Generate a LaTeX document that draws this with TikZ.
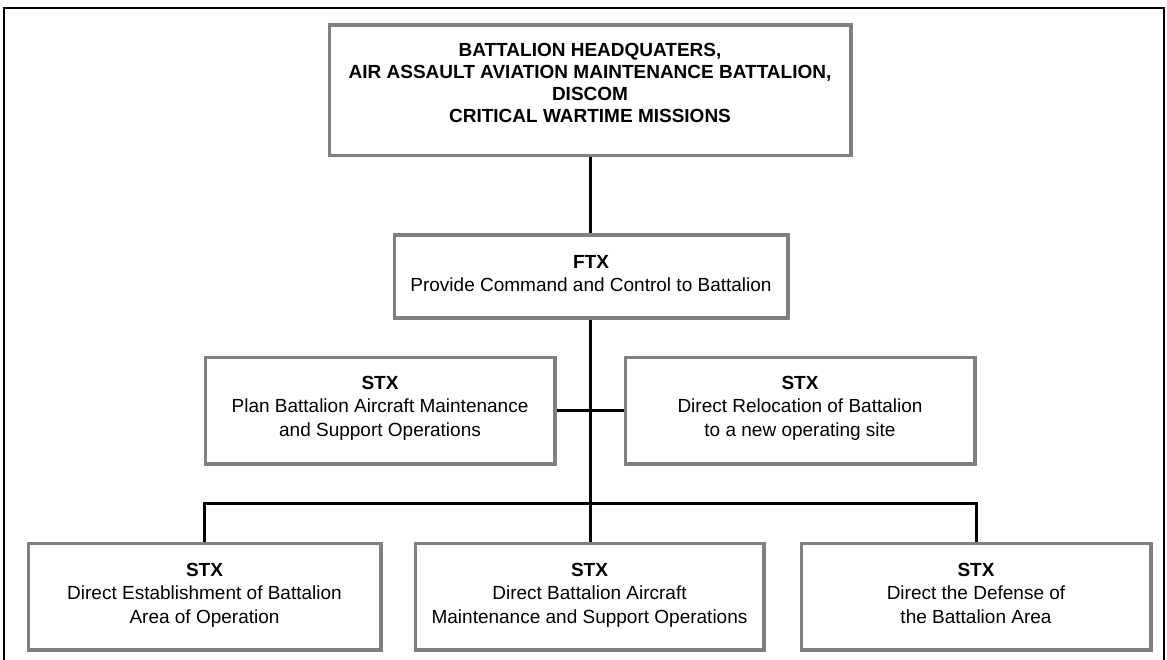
\documentclass[tikz,border=0pt]{standalone}
\usepackage{fontspec}
\setmainfont{Liberation Sans}
\definecolor{boxgray}{RGB}{128,128,128}
\tikzset{
  box/.style={draw=boxgray, line width=2.5pt, fill=white, inner sep=0pt},
  lbl/.style={align=center, inner sep=0pt, anchor=north, font=\fontsize{19}{23.5}\selectfont},
  hqlbl/.style={align=center, inner sep=0pt, anchor=north, font=\fontsize{19}{22}\selectfont\bfseries},
  conn/.style={line width=3pt, black},
  frame/.style={line width=1.6pt, black}
}
\begin{document}
\begin{tikzpicture}[x=1pt,y=-1pt]
\useasboundingbox (0,0) rectangle (1167,660);
\fill[white] (0,0) rectangle (1167,660);
\draw[frame] (4,670) -- (4,8) -- (1164,8) -- (1164,670);

% boxes (positions)
\node[box, minimum width=520pt, minimum height=129pt] (hq) at (590,90.5) {};
\node[box, minimum width=392pt, minimum height=81pt] (ftx) at (591,276.5) {};
\node[box, minimum width=348pt, minimum height=105pt] (ml) at (380,410.5) {};
\node[box, minimum width=348pt, minimum height=105pt] (mr) at (800,410.5) {};
\node[box, minimum width=351pt, minimum height=105pt] (bl) at (204.5,596.5) {};
\node[box, minimum width=347pt, minimum height=105pt] (bm) at (589.5,596.5) {};
\node[box, minimum width=348pt, minimum height=105pt] (br) at (976,596.5) {};
\coordinate (bus) at (590,503);

% connectors
\draw[conn] (hq.south) -- (ftx.north -| hq.south);
\draw[conn] (ftx.south -| hq.south) -- (bm.north -| hq.south);
\draw[conn] (ml.east) -- (mr.west);
\draw[conn] (bl.north) -- (bl.north |- bus) -- (br.north |- bus) -- (br.north);

% redraw box borders over connector ends
\foreach \n in {hq,ftx,ml,mr,bl,bm,br}{
  \draw[draw=boxgray, line width=2.5pt] (\n.north west) rectangle (\n.south east);
}

% texts
\node[hqlbl] (hqt) at (590,43) {BATTALION HEADQUATERS,\\AIR ASSAULT AVIATION MAINTENANCE BATTALION,\\DISCOM\\CRITICAL WARTIME MISSIONS};
\node[lbl] (ftxt) at (591,255) {\textbf{FTX}\\Provide Command and Control to Battalion};
\node[lbl] (mlt) at (380,376) {\textbf{STX}\\Plan Battalion Aircraft Maintenance\\and Support Operations};
\node[lbl] (mrt) at (800,376) {\textbf{STX}\\Direct Relocation of Battalion\\to a new operating site};
\node[lbl] (blt) at (204.5,563) {\textbf{STX}\\Direct Establishment of Battalion\\Area of Operation};
\node[lbl] (bmt) at (589.5,563) {\textbf{STX}\\Direct Battalion Aircraft\\Maintenance and Support Operations};
\node[lbl] (brt) at (976,563) {\textbf{STX}\\Direct the Defense of\\the Battalion Area};
\end{tikzpicture}
\end{document}
